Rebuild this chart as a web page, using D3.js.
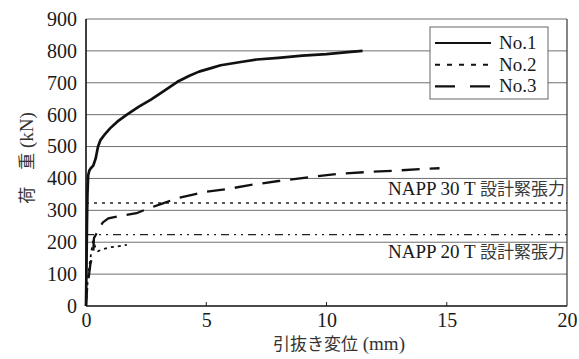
<!DOCTYPE html>
<html><head><meta charset="utf-8">
<script src="https://cdn.jsdelivr.net/npm/d3@7"></script>
<style>body{margin:0;background:#fff}svg{display:block}</style>
</head><body>
<script>
const xTicks = [0, 5, 10, 15, 20];
const yTicks = [0, 100, 200, 300, 400, 500, 600, 700, 800, 900];
const seriesNames = ["No.1", "No.2", "No.3"];
const no1 = [[0,0],[0.02,120],[0.04,260],[0.06,350],[0.09,410],[0.14,425],[0.2,432],[0.3,440],[0.4,462],[0.5,500],[0.6,520],[0.8,540],[1.0,557],[1.3,578],[1.7,600],[2.2,625],[2.7,647],[3.2,672],[3.8,703],[4.3,722],[4.7,735],[5.2,746],[5.6,755],[6.5,766],[7.1,773],[8.0,778],[9.0,785],[10.0,790],[11.0,797],[11.5,800]];
const no2 = [[0,0],[0.05,60],[0.1,100],[0.15,130],[0.22,170],[0.3,205],[0.38,185],[0.5,172],[0.7,178],[1.0,184],[1.3,187],[1.7,192]];
const no3 = [[0,0],[0.05,60],[0.1,82],[0.18,130],[0.24,150],[0.3,166],[0.33,213],[0.42,225],[0.5,238],[0.7,262],[0.93,275],[1.4,282],[2.1,291],[2.6,306],[3.2,322],[3.8,338],[4.5,350],[5.0,358],[5.9,367],[6.8,379],[8.0,392],[8.9,400],[10.4,414],[11.9,421],[13.0,425],[14.0,430],[14.7,432]];
const refValues = [323, 224];
const refLabels = ["NAPP 30 T 設計緊張力", "NAPP 20 T 設計緊張力"];

const W = 579, H = 359;
const m = {l: 86, r: 12, t: 19, b: 53};
const svg = d3.select("body").append("svg").attr("width", W).attr("height", H);
const x = d3.scaleLinear().domain([0, 20]).range([m.l, W - m.r]);
const y = d3.scaleLinear().domain([0, 900]).range([H - m.b, m.t]);
const serif = "'Liberation Serif', serif";
const cjk = "'Noto Sans CJK JP', sans-serif";

// gridlines
svg.append("g").selectAll("line").data(yTicks.filter(d => d > 0)).join("line")
  .attr("x1", x(0)).attr("x2", x(20)).attr("y1", d => y(d)).attr("y2", d => y(d))
  .attr("stroke", "#6f6f6f").attr("stroke-width", 1);
// right border
svg.append("line").attr("x1", x(20)).attr("x2", x(20)).attr("y1", y(0)).attr("y2", y(900))
  .attr("stroke", "#333").attr("stroke-width", 1.2);

// reference lines
svg.append("line").attr("x1", x(0)).attr("x2", x(20)).attr("y1", y(refValues[0])).attr("y2", y(refValues[0]))
  .attr("stroke", "#222").attr("stroke-width", 1.3).attr("stroke-dasharray", "3,5");
svg.append("line").attr("x1", x(0)).attr("x2", x(20)).attr("y1", y(refValues[1])).attr("y2", y(refValues[1]))
  .attr("stroke", "#222").attr("stroke-width", 1.3).attr("stroke-dasharray", "8,5,2,5,2,5");

// reference labels
const labelY = [195, 258];
refLabels.forEach((s, i) => {
  const parts = s.split(" 設");
  const t = svg.append("text").attr("x", x(20) - 2).attr("y", labelY[i]).attr("text-anchor", "end")
    .attr("fill", "#1a1a1a");
  t.append("tspan").attr("font-family", serif).attr("font-size", 19).text(parts[0] + " ");
  t.append("tspan").attr("font-family", cjk).attr("font-size", 17).attr("fill", "#3a3a3a").text("設" + parts[1]);
});

// curves
const line = d3.line().x(d => x(d[0])).y(d => y(d[1]));
svg.append("path").datum(no2).attr("d", line).attr("fill", "none").attr("stroke", "#111")
  .attr("stroke-width", 1.8).attr("stroke-dasharray", "3,4");
svg.append("path").datum(no3).attr("d", line).attr("fill", "none").attr("stroke", "#111")
  .attr("stroke-width", 2.3).attr("stroke-dasharray", "18,10");
svg.append("path").datum(no1).attr("d", line).attr("fill", "none").attr("stroke", "#111")
  .attr("stroke-width", 2.7).attr("stroke-linejoin", "round");

// axes
const xAxis = d3.axisBottom(x).tickValues(xTicks).tickSize(0).tickPadding(7).tickFormat(d3.format("d"));
const gx = svg.append("g").attr("transform", `translate(0,${y(0)})`).call(xAxis);
gx.select(".domain").remove();
gx.selectAll("text").attr("font-family", serif).attr("font-size", 20).attr("fill", "#1a1a1a");
svg.append("g").selectAll("line").data(xTicks.slice(1, -1)).join("line")
  .attr("x1", d => x(d)).attr("x2", d => x(d)).attr("y1", y(0)).attr("y2", y(0) - 4)
  .attr("stroke", "#222").attr("stroke-width", 1);

const yAxis = d3.axisLeft(y).tickValues(yTicks).tickSize(0).tickPadding(9).tickFormat(d3.format("d"));
const gy = svg.append("g").attr("transform", `translate(${x(0)},0)`).call(yAxis);
gy.select(".domain").remove();
gy.selectAll("text").attr("font-family", serif).attr("font-size", 20).attr("fill", "#1a1a1a");

svg.append("line").attr("x1", x(0)).attr("x2", x(20)).attr("y1", y(0)).attr("y2", y(0))
  .attr("stroke", "#111").attr("stroke-width", 1.6);
svg.append("line").attr("x1", x(0)).attr("x2", x(0)).attr("y1", y(0)).attr("y2", y(900))
  .attr("stroke", "#111").attr("stroke-width", 1.6);

// axis titles
const xt = svg.append("text").attr("x", 339).attr("y", 350).attr("text-anchor", "middle").attr("fill", "#333");
xt.append("tspan").attr("font-family", cjk).attr("font-size", 17).text("引抜き変位");
xt.append("tspan").attr("font-family", serif).attr("font-size", 19).text(" (mm)");

const yt = svg.append("text").attr("transform", "translate(33,158) rotate(-90)").attr("text-anchor", "middle").attr("fill", "#333");
yt.append("tspan").attr("font-family", cjk).attr("font-size", 17).text("荷　重");
yt.append("tspan").attr("font-family", serif).attr("font-size", 19).text(" (kN)");

// legend
const lg = svg.append("g");
lg.append("rect").attr("x", 430).attr("y", 27).attr("width", 118).attr("height", 72)
  .attr("fill", "#fff").attr("stroke", "#666").attr("stroke-width", 1);
const dashes = [null, "5,7", "20,15"];
const widths = [2.2, 2, 2.4];
seriesNames.forEach((n, i) => {
  const yy = 43 + i * 21.7;
  lg.append("line").attr("x1", 435).attr("x2", 491).attr("y1", yy).attr("y2", yy)
    .attr("stroke", "#111").attr("stroke-width", widths[i]).attr("stroke-dasharray", dashes[i]);
  lg.append("text").attr("x", 499).attr("y", yy + 6).attr("font-family", serif).attr("font-size", 19)
    .attr("fill", "#1a1a1a").text(n);
});
</script>
</body></html>
